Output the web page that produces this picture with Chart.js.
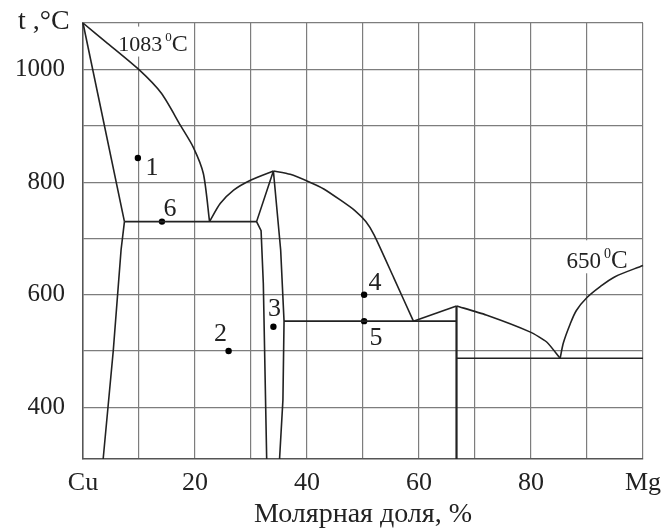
<!DOCTYPE html>
<html>
<head>
<meta charset="utf-8">
<script src="https://cdn.jsdelivr.net/npm/chart.js@4"></script>
<style>
  body { margin: 0; background: #fff; }
  #wrap { width: 667px; height: 532px; }
</style>
</head>
<body>
<div id="wrap"><canvas id="phaseChart" width="667" height="532"></canvas></div>
<script>
// Cu–Mg phase diagram: x = mole fraction of Mg (%), y = temperature (°C)
const xGrid = [0, 10, 20, 30, 40, 50, 60, 70, 80, 90, 100];
const xTickValues = [0, 20, 40, 60, 80, 100];
const xTickText = ['Cu', '20', '40', '60', '80', 'Mg'];
const yGrid = [400, 500, 600, 700, 800, 900, 1000, 1083];
const yTickValues = [400, 600, 800, 1000];

// curves, [x %, t °C]
const liquidusCu = [[0, 1083], [4, 1050], [10, 1000], [14, 958], [17.4, 901], [19.7, 862], [21.5, 815], [22.6, 730]];
const solidusCu = [[0, 1083], [7.4, 730]];
const solvusCu = [[7.4, 730], [6.8, 680], [5.4, 500], [3.6, 308]];
const eutectic1 = [[7.4, 730], [31, 730]];
const liquidusCu2MgLeft = [[22.6, 730], [24.5, 762], [26.9, 786], [30, 804], [34, 820]];
const cu2MgLeft = [[34, 820], [31, 730], [31.8, 714], [32.2, 620], [32.8, 308]];
const cu2MgRight = [[34, 820], [35.3, 679], [35.9, 553], [35.7, 413], [35.1, 308]];
const liquidusCu2MgRight = [[34, 820], [37, 814], [40.5, 800], [43, 788], [46, 768], [48.5, 750], [50.5, 730], [52, 706], [55.5, 630], [59, 553]];
const eutectic2 = [[35.9, 553], [66.7, 553]];
const liquidusCuMg2Left = [[59, 553], [66.7, 580]];
const cuMg2Line = [[66.7, 580], [66.7, 308]];
const liquidusCuMg2Right = [[66.7, 580], [72, 564], [79.8, 534], [82.8, 516], [85.2, 487]];
const liquidusMg = [[85.2, 487], [85.8, 515], [87, 548], [88.1, 572], [90, 595], [92.3, 614], [95, 632], [100, 652]];
const eutectic3 = [[66.7, 487], [100, 487]];

// marked states
const pointNames = ['1', '6', '2', '3', '4', '5'];
const pointX = [9.8, 14.1, 26, 34, 50.2, 50.2];
const pointT = [843, 730, 500, 543, 600, 553];

const SERIF = "'Liberation Serif', 'Times New Roman', serif";
const INK = '#222';

const curves = [
  [liquidusCu, 0.25], [solidusCu, 0], [solvusCu, 0], [eutectic1, 0],
  [liquidusCu2MgLeft, 0.25], [cu2MgLeft, 0], [cu2MgRight, 0],
  [liquidusCu2MgRight, 0.2], [eutectic2, 0], [liquidusCuMg2Left, 0],
  [cuMg2Line, 0], [liquidusCuMg2Right, 0.2], [liquidusMg, 0.3], [eutectic3, 0]
];

const datasets = curves.map(([pts, tension]) => ({
  data: pts.map(p => ({ x: p[0], y: p[1] })),
  showLine: true,
  borderColor: INK,
  borderWidth: pts === cuMg2Line ? 2.2 : 1.6,
  pointRadius: 0,
  tension: tension,
  clip: 4
}));

datasets.push({
  data: pointX.map((v, i) => ({ x: v, y: pointT[i] })),
  showLine: false,
  pointRadius: 3.2,
  pointBackgroundColor: '#000',
  pointBorderWidth: 0
});

function drawDegree(ctx, x, base, num, size) {
  ctx.font = size + 'px ' + SERIF;
  ctx.fillText(num, x, base);
  let w = ctx.measureText(num).width + 3;
  ctx.font = Math.round(size * 0.6) + 'px ' + SERIF;
  ctx.fillText('0', x + w, base - 10);
  w += ctx.measureText('0').width;
  ctx.font = (size + 2) + 'px ' + SERIF;
  ctx.fillText('C', x + w, base);
}

const annotations = {
  id: 'annotations',
  beforeDatasetsDraw(chart) {
    const { ctx, scales: { x, y } } = chart;
    ctx.save();
    ctx.fillStyle = '#fff';
    // white patches behind the melting point labels
    const ax = x.getPixelForValue(6.3), ay = y.getPixelForValue(1034);
    ctx.fillRect(ax - 4, ay - 24, 78, 30);
    const bx = x.getPixelForValue(86.35), by = y.getPixelForValue(647);
    ctx.fillRect(bx - 5, by - 28, 74, 33);
    ctx.restore();
  },
  afterDraw(chart) {
    const { ctx, scales: { x, y } } = chart;
    ctx.save();
    ctx.fillStyle = INK;
    ctx.textBaseline = 'alphabetic';
    ctx.textAlign = 'left';
    ctx.font = '28px ' + SERIF;
    ctx.fillText('t ,°C', 18, 29);
    drawDegree(ctx, x.getPixelForValue(6.3), y.getPixelForValue(1034), '1083', 22);
    drawDegree(ctx, x.getPixelForValue(86.35), y.getPixelForValue(647), '650', 23);

    const offs = { '1': [14, 9], '6': [8, -13], '2': [-8, -18], '3': [1, -19], '4': [11, -13], '5': [12, 16] };
    ctx.font = '26px ' + SERIF;
    ctx.textAlign = 'center';
    ctx.textBaseline = 'middle';
    pointNames.forEach((name, i) => {
      const px = x.getPixelForValue(pointX[i]) + offs[name][0];
      const py = y.getPixelForValue(pointT[i]) + offs[name][1];
      ctx.fillText(name, px, py + 1);
    });
    ctx.restore();
  }
};

new Chart(document.getElementById('phaseChart'), {
  type: 'scatter',
  data: { datasets },
  plugins: [annotations],
  options: {
    responsive: false,
    animation: false,
    layout: { padding: { top: 23, right: 24, left: 0, bottom: 0 } },
    plugins: { legend: { display: false }, tooltip: { enabled: false } },
    scales: {
      x: {
        type: 'linear',
        min: 0,
        max: 100,
        afterBuildTicks: scale => { scale.ticks = xGrid.map(v => ({ value: v })); },
        afterFit: scale => {
          scale.height = 73;
          scale.paddingLeft = 0;
          scale.paddingRight = 0;
        },
        grid: { color: '#7d7d7d', lineWidth: 1.2, drawTicks: false },
        border: { color: '#555', width: 1.5 },
        ticks: {
          autoSkip: false,
          maxRotation: 0,
          padding: 9,
          color: INK,
          font: { family: SERIF, size: 26 },
          callback: v => {
            const i = xTickValues.indexOf(v);
            return i >= 0 ? xTickText[i] : '';
          }
        },
        title: {
          display: true,
          text: 'Молярная доля, %',
          color: INK,
          font: { family: SERIF, size: 28 },
          padding: { top: 0, bottom: 1 }
        }
      },
      y: {
        type: 'linear',
        min: 308,
        max: 1083,
        afterBuildTicks: scale => { scale.ticks = yGrid.map(v => ({ value: v })); },
        afterFit: scale => {
          scale.width = 83;
          scale.paddingTop = 0;
          scale.paddingBottom = 0;
        },
        grid: { color: '#7d7d7d', lineWidth: 1.2, drawTicks: false },
        border: { color: '#555', width: 1.5 },
        ticks: {
          autoSkip: false,
          padding: 18,
          color: INK,
          font: { family: SERIF, size: 25 },
          callback: v => (yTickValues.includes(v) ? String(v) : '')
        }
      }
    }
  }
});
</script>
</body>
</html>
